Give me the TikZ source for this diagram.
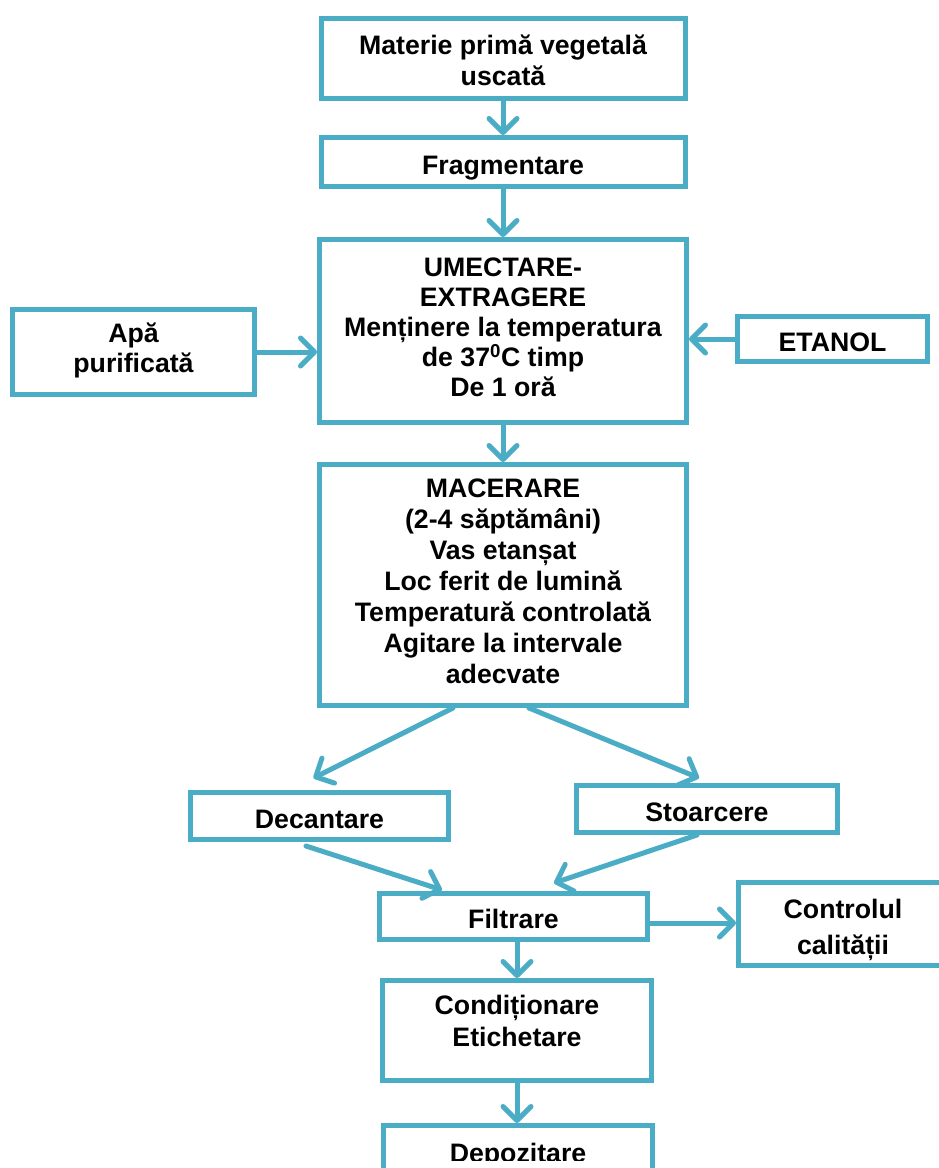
\documentclass[tikz,border=0pt]{standalone}
\usepackage{fontspec}
\setmainfont{Liberation Sans}
\usetikzlibrary{arrows.meta}
\definecolor{flowblue}{RGB}{75,172,198}
\newcommand{\fz}[1]{\fontsize{26.7}{#1}\selectfont\bfseries}
\begin{document}
\begin{tikzpicture}[x=1pt,y=1pt,
  box/.style={draw=flowblue, line width=5pt, fill=white, inner sep=0pt, align=center,
    text height=24pt, text depth=0pt, font=\fz{30}},
  lbl/.style={inner sep=0pt, align=center, font=\fz{#1}},
  arr/.style={draw=flowblue, line width=5pt, line cap=round,
    -{Straight Barb[length=14pt,width=28pt,round]}}]
\useasboundingbox (0,0) rectangle (939,-1168);
\clip (0,0) rectangle (939,-1168);
\fill[white] (0,0) rectangle (939,-1168);

% boxes
\node[box, minimum width=364, minimum height=80] (b1) at (503,-58.5) {};
\node[lbl=31] (b1t) at (503,-60.7) {Materie primă vegetală\\uscată};
\node[box, minimum width=364, minimum height=49] (b2) at (503,-162) {Fragmentare};
\node[box, minimum width=367, minimum height=183] (b3) at (503,-331) {};
\node[lbl=30] (b3t) at (503,-327) {UMECTARE-\\EXTRAGERE\\Menținere la temperatura\\de 37\textsuperscript{0}C timp\\De 1 oră};
\node[box, minimum width=242, minimum height=85] (apa) at (133.5,-352) {};
\node[lbl=30] (apat) at (133.5,-350.8) {Apă\\purificată};
\node[box, minimum width=190, minimum height=45] (etanol) at (832.5,-339) {ETANOL};
\node[box, minimum width=367, minimum height=241] (b4) at (503,-585) {};
\node[lbl=31] (b4t) at (503,-581) {MACERARE\\(2-4 săptămâni)\\Vas etanșat\\Loc ferit de lumină\\Temperatură controlată\\Agitare la intervale\\adecvate};
\node[box, minimum width=258, minimum height=47] (dec) at (319.5,-816) {Decantare};
\node[box, minimum width=261, minimum height=47] (sto) at (707,-809) {Stoarcere};
\node[box, minimum width=268, minimum height=46] (fil) at (513.5,-916.5) {Filtrare};
\node[box, minimum width=209, minimum height=83] (ctrl) at (843,-924) {};
\node[lbl=36] (ctrlt) at (843,-930) {Controlul\\calității};
\node[box, minimum width=269, minimum height=100] (cond) at (517,-1030.5) {};
\node[lbl=31.5] (condt) at (517,-1021) {Condiționare\\Etichetare};
\node[box, minimum width=269, minimum height=69] (dep) at (518,-1160) {};
\begin{scope}
\clip (300,-1100) rectangle (700,-1160);
\node[lbl=30, anchor=base] (dept) at (518,-1162.5) {Depozitare};
\end{scope}

% connectors
\draw[arr] (b1.south) -- (b2.north);
\draw[arr] (b2.south) -- (b3.north);
\draw[arr] (apa.east) -- (apa.east -| b3.west);
\draw[arr] (etanol.west) -- (etanol.west -| b3.east);
\draw[arr] (b3.south) -- (b4.north);
\draw[arr] ([xshift=-50pt]b4.south) -- ([xshift=-6pt,yshift=12pt]dec.north);
\draw[arr] ([xshift=26pt]b4.south) -- ([xshift=-8pt,yshift=5pt]sto.north);
\draw[arr] ([xshift=-13.5pt,yshift=-4pt]dec.south) -- ([xshift=-71.5pt,yshift=1pt]fil.north);
\draw[arr] ([xshift=-10pt]sto.south) -- ([xshift=40.5pt,yshift=8pt]fil.north);
\draw[arr] ([yshift=-6.5pt]fil.east) -- ([yshift=-6.5pt]fil.east -| ctrl.west);
\draw[arr] (cond.north |- fil.south) -- (cond.north);
\draw[arr] (cond.south) -- (cond.south |- dep.north);
\end{tikzpicture}
\end{document}
